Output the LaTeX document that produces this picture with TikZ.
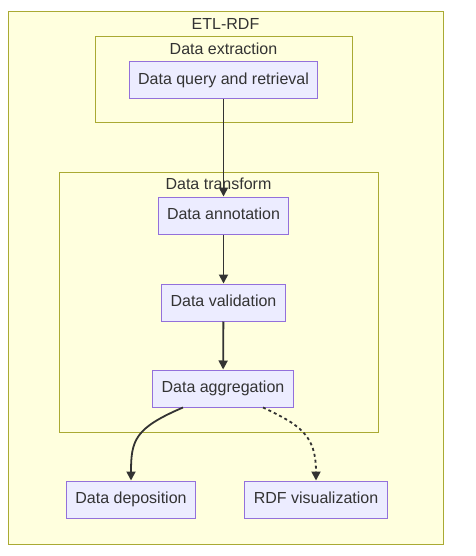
\documentclass[tikz,border=0pt]{standalone}
\usepackage{fontspec}
\setmainfont{Liberation Sans}
\usetikzlibrary{arrows.meta}
\definecolor{clfill}{HTML}{FFFFDE}
\definecolor{cldraw}{HTML}{AAAA33}
\definecolor{ndfill}{HTML}{ECECFF}
\definecolor{nddraw}{HTML}{9370DB}
\definecolor{txt}{HTML}{333333}
\begin{document}
\begin{tikzpicture}[x=1pt, y=-1pt, line width=1pt,
  step node/.style={rectangle, draw=nddraw, fill=ndfill, text=txt, minimum height=37pt, inner xsep=9pt, text height=12pt, text depth=3.5pt, font=\fontsize{16}{19}\selectfont},
  cluster/.style={draw=cldraw, fill=clfill},
  title/.style={text=txt, text height=12pt, text depth=3.5pt, font=\fontsize{16}{19}\selectfont},
  flow/.style={draw=txt, line width=1.8pt, -{Triangle[length=9pt,width=9pt]}}]
\useasboundingbox[fill=white] (0,0) rectangle (475,556);
%clusters
\draw[cluster] (8,12) rectangle (443,544);
\node[title] (etl) at (225.5,25) {ETL-RDF};
\draw[cluster] (95,37) rectangle (352,123);
\node[title] (extr) at (223.5,50) {Data extraction};
\draw[cluster] (59,172) rectangle (378,432);
\node[title] (trans) at (218.5,185) {Data transform};
%nodes
\begin{scope}[every node/.style={step node}]
\node (query) at (223.5,80) {Data query and retrieval};%1
\node (annot) at (223.5,215.5) {Data annotation};%2
\node (valid) at (223.5,302.5) {Data validation};%3
\node (aggr) at (223,388.5) {Data aggregation};%4
\node (depo) at (131,499.5) {Data deposition};%5
\node (visu) at (316,499.5) {RDF visualization};%6
\end{scope}
%edges
\begin{scope}[every path/.style={flow}]
\draw (query) -- (annot);
\draw (annot) -- (valid);
\draw (valid) -- (aggr);
\draw ([xshift=-40pt]aggr.south) .. controls (135,428) and (131,440) .. (depo.north);
\draw[dash pattern=on 3pt off 3pt] ([xshift=40pt]aggr.south) .. controls (300,425) and (316,435) .. (visu.north);
\end{scope}
\end{tikzpicture}
\end{document}
